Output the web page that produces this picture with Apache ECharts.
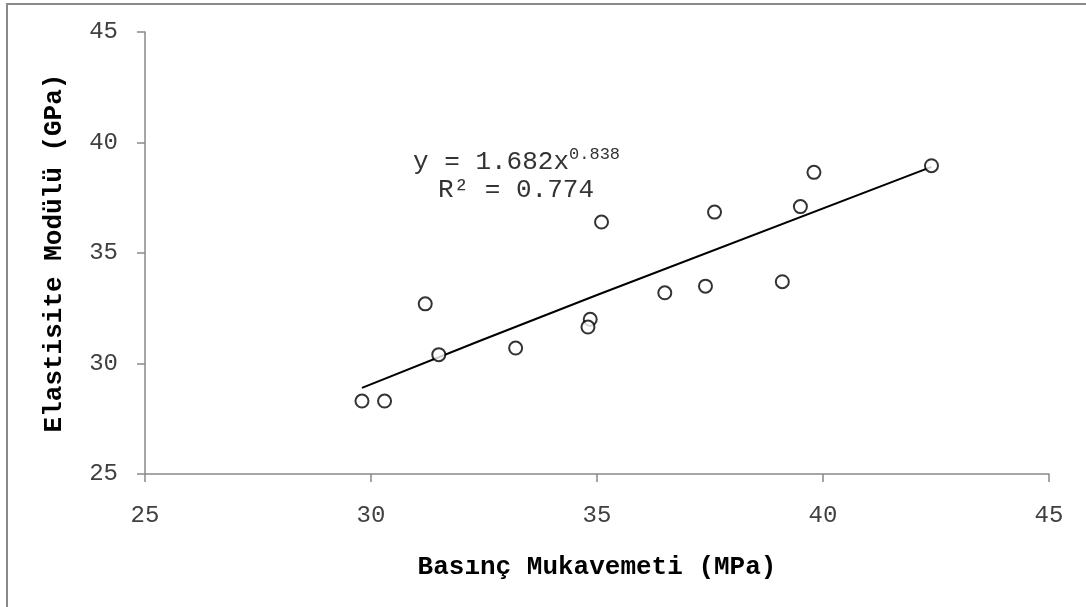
<!DOCTYPE html>
<html>
<head>
<meta charset="utf-8">
<script src="https://cdn.jsdelivr.net/npm/echarts@6/dist/echarts.min.js"></script>
<style>
  html, body { margin: 0; padding: 0; background: #fff; }
  #chart { width: 1086px; height: 607px; }
</style>
</head>
<body>
<div id="chart"></div>
<script>
// measured points: compressive strength (MPa) vs elastic modulus (GPa)
const strengthMPa = [29.8, 30.3, 31.2, 31.5, 33.2, 34.85, 34.8, 35.1, 36.5, 37.4, 37.6, 39.1, 39.5, 39.8, 42.4];
const modulusGPa  = [28.3, 28.3, 32.7, 30.4, 30.7, 32.0, 31.65, 36.4, 33.2, 33.5, 36.85, 33.7, 37.1, 38.65, 38.95];

// power trendline as drawn on the picture (read at both ends and the middle)
const trendX = [29.8, 35.0, 42.4];
const trendY = [28.9, 33.1, 38.9];

const axisTicks = [25, 30, 35, 40, 45];
const eqLine1 = 'y = 1.682x';
const eqPower = '0.838';
const eqLine2 = 'R² = 0.774';

const FONT = '"Liberation Mono", "Courier New", monospace';
const AXIS_GRAY = '#898989';

const chart = echarts.init(document.getElementById('chart'), null, { renderer: 'canvas' });

const axisCommon = {
    type: 'value',
    min: axisTicks[0],
    max: axisTicks[axisTicks.length - 1],
    interval: 5,
    nameLocation: 'middle',
    nameTextStyle: { fontFamily: FONT, fontSize: 26, fontWeight: 'bold', color: '#000' },
    axisLine: { show: true, onZero: false, lineStyle: { color: AXIS_GRAY, width: 1.5 } },
    axisTick: { show: true, inside: false, length: 8, lineStyle: { color: AXIS_GRAY, width: 1.5 } },
    axisLabel: { fontFamily: FONT, fontSize: 24, color: '#404040' },
    splitLine: { show: false }
};

chart.setOption({
    backgroundColor: '#fff',
    animation: false,
    grid: { left: 145, right: 37, top: 32, bottom: 133 },
    xAxis: Object.assign({}, axisCommon, {
        name: 'Basınç Mukavemeti (MPa)',
        nameGap: 80,
        axisLabel: Object.assign({}, axisCommon.axisLabel, { margin: 30 })
    }),
    yAxis: Object.assign({}, axisCommon, {
        name: 'Elastisite Modülü (GPa)',
        nameGap: 78,
        axisLabel: Object.assign({}, axisCommon.axisLabel, { margin: 27 })
    }),
    graphic: [
        {
            type: 'rect', silent: true, z: -1,
            shape: { x: 7, y: 4, width: 1200, height: 800 },
            style: { fill: 'none', stroke: AXIS_GRAY, lineWidth: 2 }
        },
        {
            type: 'text', left: 413, top: 146,
            style: {
                text: '{b|' + eqLine1 + '}{s|' + eqPower + '}',
                rich: {
                    b: { fontFamily: FONT, fontSize: 26, fill: '#333', verticalAlign: 'bottom' },
                    s: { fontFamily: FONT, fontSize: 17, fill: '#333', verticalAlign: 'top', padding: [0, 0, 12, 0] }
                }
            }
        },
        {
            type: 'text', left: 438, top: 177,
            style: { text: eqLine2, fontFamily: FONT, fontSize: 26, fill: '#333' }
        }
    ],
    series: [
        {
            name: 'trend',
            type: 'line',
            data: trendX.map((x, i) => [x, trendY[i]]),
            smooth: true,
            symbol: 'none',
            lineStyle: { color: '#000', width: 2 },
            z: 2
        },
        {
            name: 'data',
            type: 'scatter',
            data: strengthMPa.map((x, i) => [x, modulusGPa[i]]),
            symbol: 'circle',
            symbolSize: 13,
            itemStyle: { color: '#fff', borderColor: '#000', borderWidth: 2 },
            z: 3
        }
    ]
});
</script>
</body>
</html>
